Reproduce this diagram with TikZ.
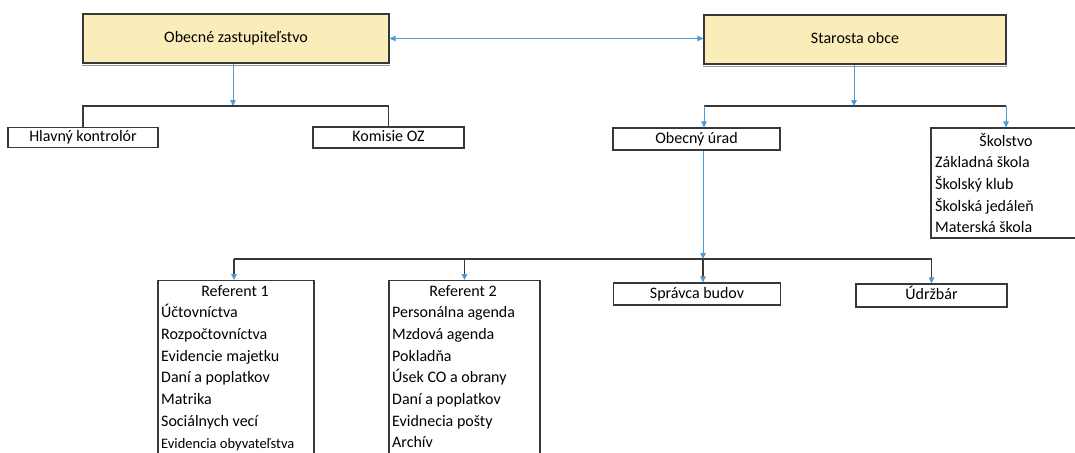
\documentclass[tikz,border=0pt]{standalone}
\usepackage{fontspec}
\setmainfont{Carlito}
\usetikzlibrary{arrows.meta}
\definecolor{hdrfill}{HTML}{FBEDBA}
\definecolor{lnblue}{HTML}{4C9BD6}
\definecolor{edge}{HTML}{383838}
\begin{document}
\begin{tikzpicture}[x=1pt,y=-1pt,
  txt/.style={font=\fontsize{16}{19}\selectfont, inner sep=0pt},
  box/.style={draw=edge, line width=1.2pt, fill=white, inner sep=0pt,
    font=\fontsize{16}{19}\selectfont, text height=11pt, text depth=3pt},
  hdr/.style={box, fill=hdrfill},
  blu/.style={draw=lnblue, line width=0.8pt, -{Triangle[length=6pt,width=5.5pt]}},
  brk/.style={draw=edge, line width=1.3pt},
  drop/.style={draw=edge, line width=1.1pt, -{Triangle[length=6pt,width=5.5pt,color=lnblue]}}
]
\useasboundingbox (0,0) rectangle (1075,452);
\clip (0,0) rectangle (1075,452);
\fill[white] (0,0) rectangle (1075,452);

% header boxes
\node[hdr, minimum width=306pt, minimum height=49pt] (oz) at (236,38.5) {Obecné zastupiteľstvo};
\node[hdr, minimum width=302pt, minimum height=49pt] (st) at (855,39.5) {Starosta obce};
\draw[gray!80, line width=1pt] ([yshift=-1.8pt]oz.south west) -- ([yshift=-1.8pt]oz.south east);
\draw[gray!80, line width=1pt] ([yshift=-1.8pt]st.south west) -- ([yshift=-1.8pt]st.south east);
\draw[lnblue, line width=0.8pt, {Triangle[length=6pt,width=5.5pt]}-{Triangle[length=6pt,width=5.5pt]}]
  (oz.east) -- (oz.east -| st.west);

% second level
\node[box, minimum width=150pt, minimum height=20pt] (hk) at (83,137.5) {Hlavný kontrolór};
\node[box, minimum width=151pt, minimum height=21pt] (kom) at (388.5,137.5) {Komisie OZ};
\node[box, minimum width=167pt, minimum height=22pt] (ou) at (696.5,139) {Obecný úrad};
\node[box, minimum width=154pt, minimum height=110pt] (sk) at (1008,183) {};
\node[txt, anchor=base] (sk0) at (1006,146) {Školstvo};
\foreach \t [count=\i from 1] in {Základná škola, Školský klub, Školská jedáleň, Materská škola}
  \node[txt, anchor=base west] (skl\i) at (935,{146+21.7*\i}) {\t};

% connectors upper left
\coordinate (b1) at (233,106);
\draw[blu] (oz.south -| b1) -- (b1);
\draw[brk] (hk.north) |- (b1) -| (kom.north);

% connectors upper right
\coordinate (b2) at (854,106);
\coordinate (b2l) at (704,106);
\coordinate (b2r) at (1006,106);
\draw[brk] (b2l) -- (b2r);
\draw[blu] (st.south -| b2) -- (b2);
\draw[blu] (b2l) -- (b2l |- ou.north);
\draw[blu] (b2r) -- (b2r |- sk.north);

% third level
\node[box, minimum width=156pt, minimum height=200pt, anchor=north] (r1) at (236,280) {};
\node[box, minimum width=151pt, minimum height=200pt, anchor=north] (r2) at (464.5,280) {};
\node[box, minimum width=167pt, minimum height=22pt] (sb) at (697,294) {Správca budov};
\node[box, minimum width=151pt, minimum height=23pt] (ud) at (931.5,295.5) {Údržbár};

\node[txt, anchor=base] (r1t) at (235,296) {Referent 1};
\foreach \t [count=\i from 1] in {Účtovníctva, Rozpočtovníctva, Evidencie majetku, Daní a poplatkov, Matrika, Sociálnych vecí}
  \node[txt, anchor=base west] (r1l\i) at (161,{296+21.7*\i}) {\t};
\node[txt, anchor=base west, font=\fontsize{14.5}{17}\selectfont] (r1l7) at (161,448) {Evidencia obyvateľstva};

\node[txt, anchor=base] (r2t) at (463,296) {Referent 2};
\foreach \t [count=\i from 1] in {Personálna agenda, Mzdová agenda, Pokladňa, Úsek CO a obrany, Daní a poplatkov, Evidnecia pošty, Archív}
  \node[txt, anchor=base west] (r2l\i) at (392,{296+21.7*\i}) {\t};

% connectors lower
\coordinate (b3) at (703,259);
\coordinate (b3l) at (234,259);
\coordinate (b3m) at (464.5,259);
\coordinate (b3r) at (931.5,259);
\draw[brk] (b3l) -- (b3r);
\draw[blu] (ou.south -| b3) -- (b3);
\draw[drop] (b3l) -- (b3l |- r1.north);
\draw[drop] (b3m) -- (b3m |- r2.north);
\draw[drop] (b3) -- (b3 |- sb.north);
\draw[drop] (b3r) -- (b3r |- ud.north);
\end{tikzpicture}
\end{document}
